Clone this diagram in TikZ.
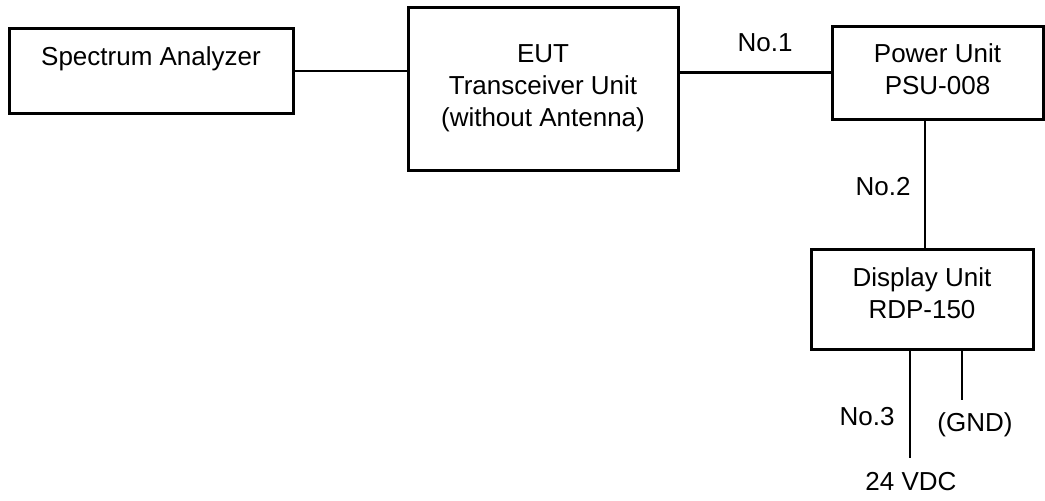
\documentclass[tikz,border=0pt]{standalone}
\usepackage{fontspec}
\setmainfont{Liberation Sans}
\begin{document}
\begin{tikzpicture}[x=0.5pt,y=-0.5pt,font=\fontsize{13}{16}\selectfont,
    unit/.style={draw, line width=1.5pt, align=center, inner sep=0pt},
    wire/.style={line width=1.4pt}]
  \useasboundingbox (0,0) rectangle (1045,500);
  % units
  \node[unit, minimum width=142pt, minimum height=42.5pt, text height=9.5pt, text depth=15.5pt] (sa) at (151,71) {Spectrum Analyzer};
  \node[unit, minimum width=135pt, minimum height=81.5pt] (eut) at (543,88.5) {EUT\\Transceiver Unit\\(without Antenna)};
  \node[unit, minimum width=105.5pt, minimum height=46.5pt, text depth=3pt] (psu) at (937.5,72.5) {Power Unit\\PSU-008};
  \node[unit, minimum width=111pt, minimum height=50pt, text depth=6.4pt] (du) at (922,299) {Display Unit\\RDP-150};
  \coordinate (dc) at (910,458);
  \coordinate (gnd) at (962,400);
  % cables
  \draw[wire] (sa.east) -- (sa.east -| eut.west);
  \draw[wire] (psu.west -| eut.east) -- (psu.west);
  \draw[wire] ([xshift=-6.25pt]psu.south) -- ([xshift=-6.25pt]psu.south |- du.north);
  \draw[wire] (du.south -| dc) -- (dc);
  \draw[wire] (du.south -| gnd) -- (gnd);
  % labels
  \node (no1) at (765,43) {No.1};
  \node (no2) at (883,187) {No.2};
  \node (no3) at (867,417) {No.3};
  \node (gndlbl) at (975,425) {(GND)};
  \node (vdc) at (911,482) {24 VDC};
\end{tikzpicture}
\end{document}
